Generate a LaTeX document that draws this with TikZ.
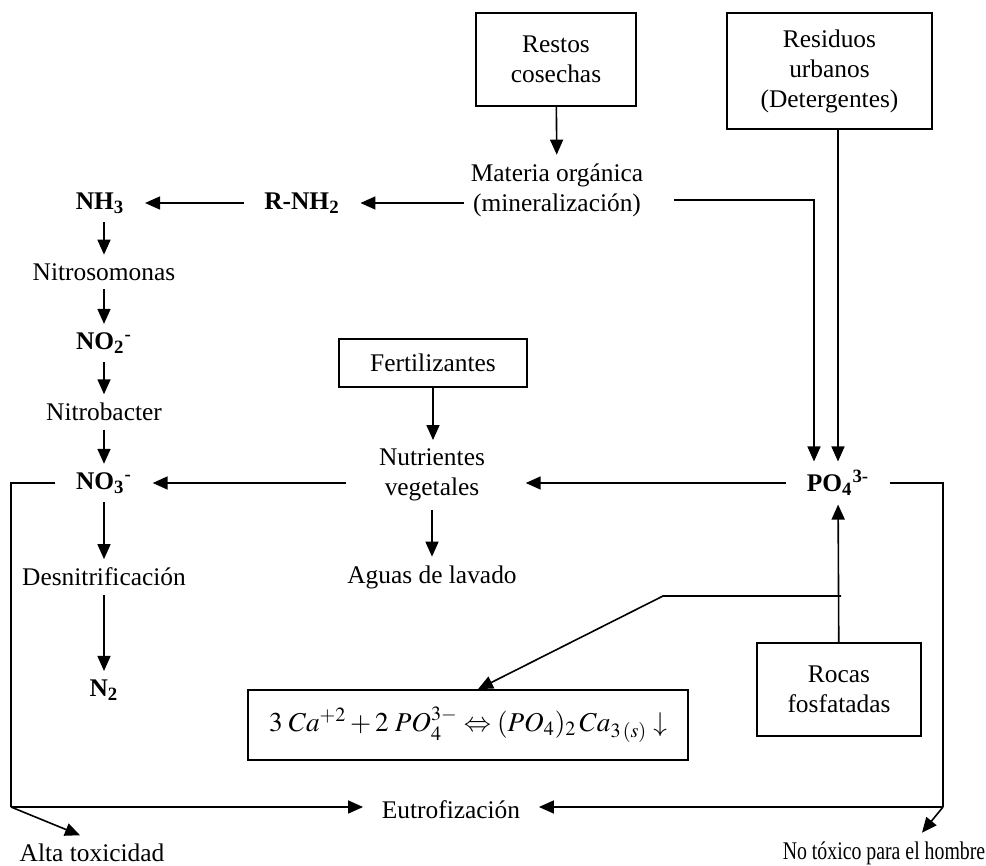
\documentclass[tikz,border=0pt]{standalone}
\usepackage{mathptmx}
\usepackage[no-math]{fontspec}
\setmainfont{Liberation Serif}
\usetikzlibrary{arrows.meta}

\begin{document}
\begin{tikzpicture}[x=0.5pt, y=-0.5pt, font=\fontsize{12.7}{15}\selectfont, line width=0.8pt, >={Triangle[length=7.5pt,width=6.5pt]},
	caja/.style={draw, align=center, inner sep=0pt},
	txt/.style={align=center, inner xsep=3pt, inner ysep=4pt},
	quim/.style={txt, font=\fontsize{12.7}{15}\selectfont\bfseries, inner xsep=10pt}]
	\useasboundingbox (0,0) rectangle (986,866);
	% fuentes
	\node[caja, minimum width=80pt, minimum height=46.5pt] (restos) at (556,59.5) {Restos\\cosechas};
	\node[caja, minimum width=102.5pt, minimum height=58pt] (residuos) at (829.5,71) {Residuos\\urbanos\\(Detergentes)};
	\node[caja, minimum width=94pt, minimum height=24pt] (fert) at (433,363) {Fertilizantes};
	\node[caja, minimum width=82pt, minimum height=46.5pt] (rocas) at (839,689.5) {Rocas\\fosfatadas};
	\node[caja, minimum width=220pt, minimum height=35pt, font=\fontsize{13.6}{16}\selectfont] (eq) at (468,725) {$3\;Ca^{+2}+2\;PO_4^{3-}\Leftrightarrow(PO_4)_2\,Ca_{3\,(s)}\downarrow$};
	% ciclo del nitrogeno
	\node[txt] (materia) at (557,190) {Materia orgánica\\(mineralización)};
	\node[quim] (rnh2) at (302,203) {R-NH\textsubscript{2}};
	\node[quim] (nh3) at (100,203) {NH\textsubscript{3}};
	\node[txt] (nitroso) at (104,272) {Nitrosomonas};
	\node[quim] (no2) at (104,343) {NO\textsubscript{2}\textsuperscript{-}};
	\node[txt] (nitrob) at (104,412) {Nitrobacter};
	\node[quim] (no3) at (104,483) {NO\textsubscript{3}\textsuperscript{-}};
	\node[txt] (desn) at (104,577) {Desnitrificación};
	\node[quim] (n2) at (104,690) {N\textsubscript{2}};
	\node[txt] (nutri) at (432,475) {Nutrientes\\vegetales};
	\node[txt] (aguas) at (432,577) {Aguas de lavado};
	\node[quim] (po4) at (838,483) {PO\textsubscript{4}\textsuperscript{3-}};
	% efectos
	\node[txt, inner xsep=9pt] (eutro) at (451,810) {Eutrofización};
	\node[txt] (alta) at (92,853) {Alta toxicidad};
	\node[txt] (notox) at (884,853) {\scalebox{0.78}[1]{No tóxico para el hombre}};
	\coordinate (rama) at (841,596);
	\coordinate (codo) at (663,596);
	\coordinate (esqI) at (11,807);
	\coordinate (esqD) at (943,807);
	% conexiones
	\draw[->] (restos) -- (materia);
	\draw[->] (materia.west |- rnh2) -- (rnh2);
	\draw[->] (rnh2) -- (nh3);
	\foreach \a/\b in {nh3/nitroso, nitroso/no2, no2/nitrob, nitrob/no3, no3/desn, desn/n2}
		\draw[->] (\b |- \a.south) -- (\b);
	\draw[->] (fert) -- (fert |- nutri.north);
	\draw[->] (nutri) -- (aguas);
	\draw[->] ([xshift=-13pt]nutri.west |- no3) -- (no3);
	\draw[->] (po4.west) -- ([xshift=17pt]po4.west -| nutri.east);
	\draw[->] ([shift={(12pt,-5pt)}]materia.east) -| ([xshift=-12pt]po4.north);
	\draw[->] (po4.north |- residuos.south) -- (po4.north);
	\draw[->] (rocas) -- (po4);
	\draw[->] (rama) -- (codo) -- ([xshift=5pt]eq.north);
	\draw (no3.west) -| (esqI);
	\draw (po4.east) -| (esqD);
	\draw[->] (esqI) -- (esqI -| eutro.west);
	\draw[->] (esqD) -- (esqD -| eutro.east);
	\draw[->] (esqI) -- ([xshift=-6pt]alta.north);
	\draw[->] (esqD) -- ([xshift=19pt]notox.north);
\end{tikzpicture}
\end{document}
